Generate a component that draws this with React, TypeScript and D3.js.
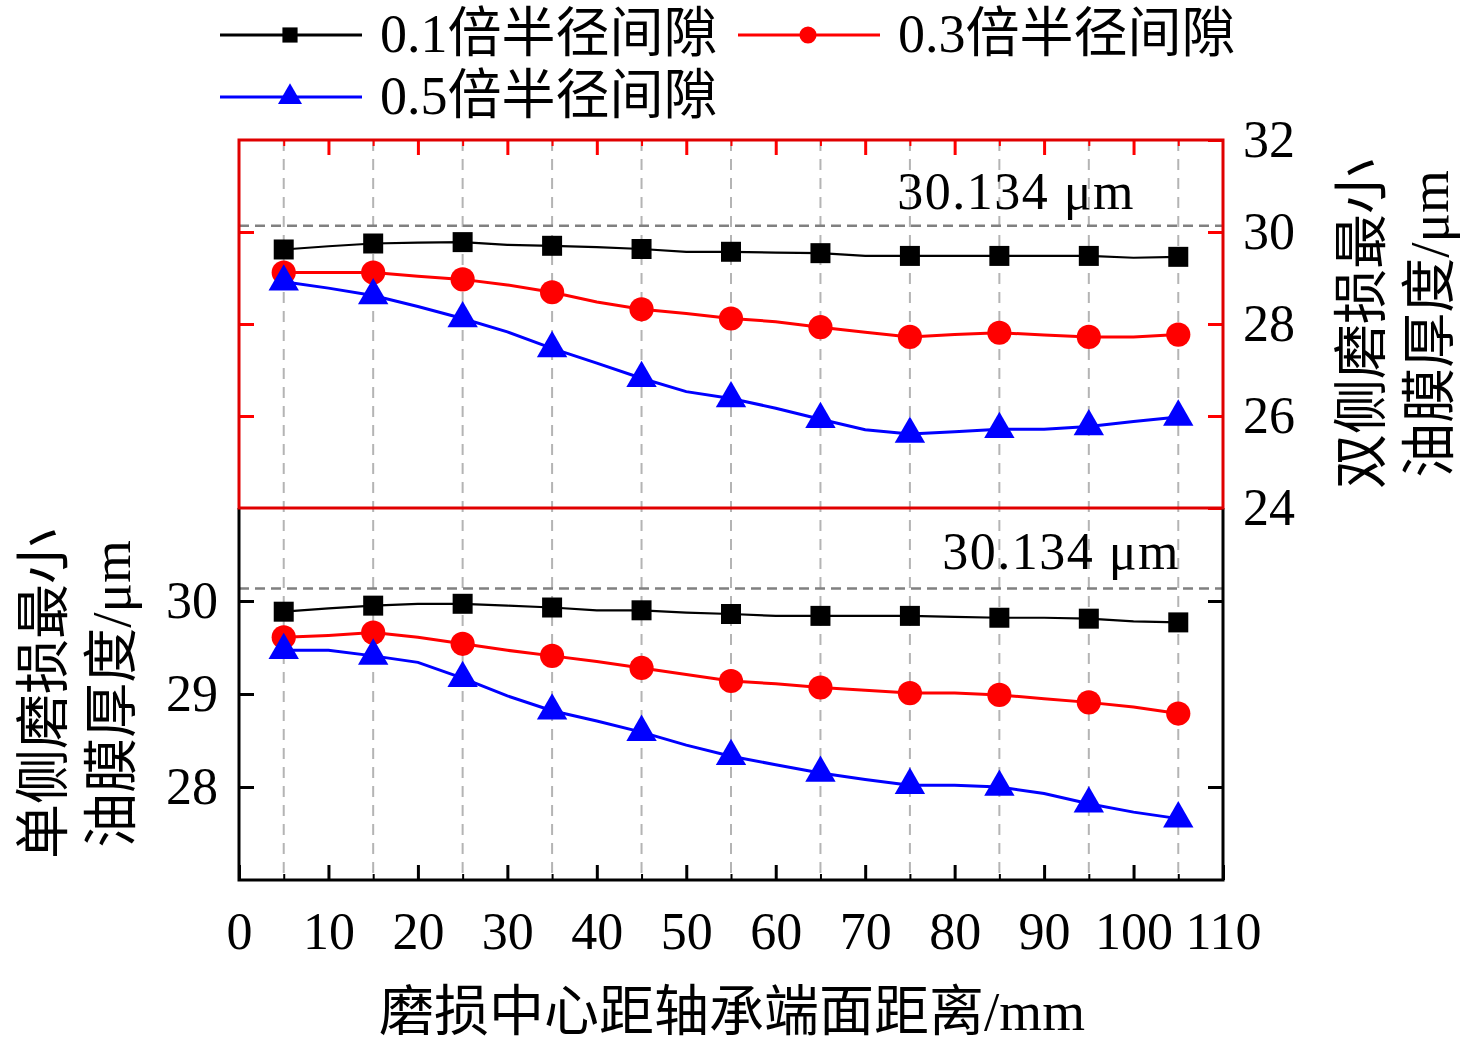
// @ts-nocheck
import React, { useEffect, useRef } from "react";
import * as d3 from "d3";

// distance of wear centre from bearing end face (mm)
const DIST = [5, 10, 15, 20, 25, 30, 35, 40, 45, 50, 55, 60, 65, 70, 75, 80, 85, 90, 95, 100, 105];

// two-side wear (top panel, right axis)
const TOP_01 = [29.62, 29.69, 29.75, 29.77, 29.78, 29.72, 29.7, 29.67, 29.63, 29.57, 29.57, 29.55, 29.54, 29.48, 29.48, 29.48, 29.48, 29.48, 29.48, 29.44, 29.46];
const TOP_03 = [29.12, 29.12, 29.12, 29.04, 28.97, 28.85, 28.69, 28.48, 28.32, 28.23, 28.12, 28.05, 27.93, 27.82, 27.72, 27.77, 27.81, 27.76, 27.72, 27.72, 27.77];
const TOP_05 = [28.92, 28.78, 28.62, 28.38, 28.12, 27.83, 27.47, 27.15, 26.82, 26.53, 26.38, 26.17, 25.93, 25.7, 25.61, 25.66, 25.71, 25.71, 25.77, 25.88, 25.98];

// one-side wear (bottom panel, left axis)
const BOT_01 = [29.885, 29.92, 29.95, 29.97, 29.97, 29.95, 29.93, 29.9, 29.9, 29.875, 29.86, 29.84, 29.84, 29.84, 29.84, 29.83, 29.82, 29.82, 29.81, 29.78, 29.77];
const BOT_03 = [29.61, 29.63, 29.66, 29.61, 29.54, 29.47, 29.41, 29.35, 29.28, 29.21, 29.14, 29.11, 29.07, 29.04, 29.01, 29.01, 28.99, 28.95, 28.91, 28.86, 28.79];
const BOT_05 = [29.47, 29.47, 29.41, 29.34, 29.17, 28.98, 28.82, 28.71, 28.59, 28.45, 28.33, 28.24, 28.15, 28.08, 28.02, 28.02, 28.0, 27.93, 27.82, 27.73, 27.66];

const REF_VALUE = 30.134;
const REF_LABEL = "30.134 μm";

const SERIES_NAMES = ["0.1倍半径间隙", "0.3倍半径间隙", "0.5倍半径间隙"];
const SERIES_COLORS = ["#000000", "#ff0000", "#0000ff"];

const X_TICKS = [0, 10, 20, 30, 40, 50, 60, 70, 80, 90, 100, 110];
const X_MINOR = [5, 15, 25, 35, 45, 55, 65, 75, 85, 95, 105];
const TOP_TICKS = [24, 26, 28, 30, 32];
const BOT_TICKS = [28, 29, 30];

const X_TITLE = "磨损中心距轴承端面距离/mm";
const LEFT_TITLE = ["单侧磨损最小", "油膜厚度/μm"];
const RIGHT_TITLE = ["双侧磨损最小", "油膜厚度/μm"];

const FONT = "'Liberation Serif', 'Noto Sans CJK SC', serif";
const W = 1476;
const H = 1045;

function drawChart(svgEl) {
  const svg = d3.select(svgEl);
  svg.selectAll("*").remove();

  const x = d3.scaleLinear([0, 110], [239, 1223]);
  const yTop = d3.scaleLinear([24, 32], [508, 140]);
  const yBot = d3.scaleLinear([27, 31], [880, 508]);
  const fmt = d3.format("d");

  const [x0, x1] = x.range();
  const [topBottom, topTop] = yTop.range();
  const [botBottom] = yBot.range();

  // vertical dashed grid at the measured positions
  svg
    .append("g")
    .selectAll("line")
    .data(X_MINOR)
    .join("line")
    .attr("x1", (d) => x(d))
    .attr("x2", (d) => x(d))
    .attr("y1", topTop)
    .attr("y2", botBottom)
    .attr("stroke", "#b4b4b4")
    .attr("stroke-width", 2)
    .attr("stroke-dasharray", "11,8");

  // reference lines 30.134
  [yTop, yBot].forEach((y) => {
    svg
      .append("line")
      .attr("x1", x0)
      .attr("x2", x1)
      .attr("y1", y(REF_VALUE))
      .attr("y2", y(REF_VALUE))
      .attr("stroke", "#808080")
      .attr("stroke-width", 2.5)
      .attr("stroke-dasharray", "10,6");
  });

  svg
    .append("text")
    .attr("x", 1135)
    .attr("y", 209)
    .attr("text-anchor", "end")
    .attr("font-family", FONT)
    .attr("font-size", 52)
    .attr("letter-spacing", 1.5)
    .text(REF_LABEL);
  svg
    .append("text")
    .attr("x", 1180)
    .attr("y", 569)
    .attr("text-anchor", "end")
    .attr("font-family", FONT)
    .attr("font-size", 52)
    .attr("letter-spacing", 1.5)
    .text(REF_LABEL);

  const symbols = [
    d3.symbol(d3.symbolSquare, 400),
    d3.symbol(d3.symbolCircle, 460),
    d3.symbol(d3.symbolTriangle, 400),
  ];
  const legendSymbols = [
    d3.symbol(d3.symbolSquare, 230),
    d3.symbol(d3.symbolCircle, 230),
    d3.symbol(d3.symbolTriangle, 250),
  ];
  const widths = [2.2, 3, 3];

  const drawSeries = (values, y, i) => {
    const pts = DIST.map((d, k) => [d, values[k]]);
    const line = d3
      .line()
      .x((p) => x(p[0]))
      .y((p) => y(p[1]));
    svg
      .append("path")
      .attr("d", line(pts))
      .attr("fill", "none")
      .attr("stroke", SERIES_COLORS[i])
      .attr("stroke-width", widths[i]);
    svg
      .append("g")
      .selectAll("path")
      .data(pts.filter((p) => X_MINOR.includes(p[0])))
      .join("path")
      .attr("d", symbols[i])
      .attr("transform", (p) => `translate(${x(p[0])},${y(p[1])})`)
      .attr("fill", SERIES_COLORS[i]);
  };

  [BOT_01, BOT_03, BOT_05].forEach((v, i) => drawSeries(v, yBot, i));
  [TOP_01, TOP_03, TOP_05].forEach((v, i) => drawSeries(v, yTop, i));

  const styleAxis = (g, color, width = 3) => {
    g.select(".domain").remove();
    g.selectAll(".tick line").attr("stroke", color).attr("stroke-width", width);
    g.attr("font-family", FONT).attr("font-size", 52);
    g.selectAll(".tick text").attr("fill", "#000");
  };

  // bottom x axis
  svg
    .append("g")
    .attr("transform", `translate(0,${botBottom})`)
    .call(d3.axisBottom(x).tickValues(X_MINOR).tickSize(-6).tickFormat(() => ""))
    .call((g) => styleAxis(g, "#000", 2));
  svg
    .append("g")
    .attr("transform", `translate(0,${botBottom})`)
    .call(d3.axisBottom(x).tickValues(X_TICKS).tickSize(-15).tickPadding(32).tickFormat(fmt))
    .call((g) => styleAxis(g, "#000"));

  // top panel top ticks (red)
  svg
    .append("g")
    .attr("transform", `translate(0,${topTop})`)
    .call(d3.axisTop(x).tickValues(X_MINOR).tickSize(-6).tickFormat(() => ""))
    .call((g) => styleAxis(g, "#ff0000", 2));
  svg
    .append("g")
    .attr("transform", `translate(0,${topTop})`)
    .call(d3.axisTop(x).tickValues(X_TICKS.slice(1, -1)).tickSize(-15).tickFormat(() => ""))
    .call((g) => styleAxis(g, "#ff0000"));

  // top panel y axes
  svg
    .append("g")
    .attr("transform", `translate(${x1},0)`)
    .call(d3.axisRight(yTop).tickValues(TOP_TICKS).tickSize(-15).tickPadding(20).tickFormat(fmt))
    .call((g) => styleAxis(g, "#ff0000"));
  svg
    .append("g")
    .attr("transform", `translate(${x0},0)`)
    .call(d3.axisLeft(yTop).tickValues(TOP_TICKS.slice(1, -1)).tickSize(-15).tickFormat(() => ""))
    .call((g) => styleAxis(g, "#ff0000"));

  // bottom panel y axes
  svg
    .append("g")
    .attr("transform", `translate(${x0},0)`)
    .call(d3.axisLeft(yBot).tickValues(BOT_TICKS).tickSize(-15).tickPadding(21).tickFormat(fmt))
    .call((g) => styleAxis(g, "#000"));
  svg
    .append("g")
    .attr("transform", `translate(${x1},0)`)
    .call(d3.axisRight(yBot).tickValues([28, 30]).tickSize(-15).tickFormat(() => ""))
    .call((g) => styleAxis(g, "#000"));

  // bottom panel frame
  svg
    .append("path")
    .attr("d", `M${x0},${topBottom}V${botBottom}H${x1}V${topBottom}`)
    .attr("fill", "none")
    .attr("stroke", "#000")
    .attr("stroke-width", 3);

  // top panel frame
  svg
    .append("rect")
    .attr("x", x0)
    .attr("y", topTop)
    .attr("width", x1 - x0)
    .attr("height", topBottom - topTop)
    .attr("fill", "none")
    .attr("stroke", "#e00000")
    .attr("stroke-width", 3);

  // titles
  svg
    .append("text")
    .attr("x", 732)
    .attr("y", 1030)
    .attr("text-anchor", "middle")
    .attr("font-family", FONT)
    .attr("font-size", 55)
    .text(X_TITLE);

  const vTitle = (lines, xs, cy) => {
    lines.forEach((t, k) => {
      svg
        .append("text")
        .attr("transform", `translate(${xs[k]},${cy}) rotate(-90)`)
        .attr("text-anchor", "middle")
        .attr("font-family", FONT)
        .attr("font-size", 55)
        .text(t);
    });
  };
  vTitle(LEFT_TITLE, [62, 130], 694);
  vTitle(RIGHT_TITLE, [1380, 1448], 324);

  // legend
  const legendPos = [
    [220, 35],
    [738, 35],
    [220, 97],
  ];
  SERIES_NAMES.forEach((name, i) => {
    const [lx, ly] = legendPos[i];
    const g = svg.append("g").attr("transform", `translate(${lx},${ly})`);
    g.append("line")
      .attr("x1", 0)
      .attr("x2", 142)
      .attr("stroke", SERIES_COLORS[i])
      .attr("stroke-width", 3);
    g.append("path")
      .attr("d", legendSymbols[i])
      .attr("transform", "translate(70,0)")
      .attr("fill", SERIES_COLORS[i]);
    g.append("text")
      .attr("x", 160)
      .attr("y", 17)
      .attr("font-family", FONT)
      .attr("font-size", 54)
      .text(name);
  });
}

export default function App() {
  const ref = useRef(null);

  useEffect(() => {
    if (!ref.current) return;
    drawChart(ref.current);
  }, []);

  return (
    <svg
      ref={ref}
      width={W}
      height={H}
      viewBox={`0 0 ${W} ${H}`}
      style={{ position: "absolute", left: 0, top: 0, background: "#fff" }}
    />
  );
}
